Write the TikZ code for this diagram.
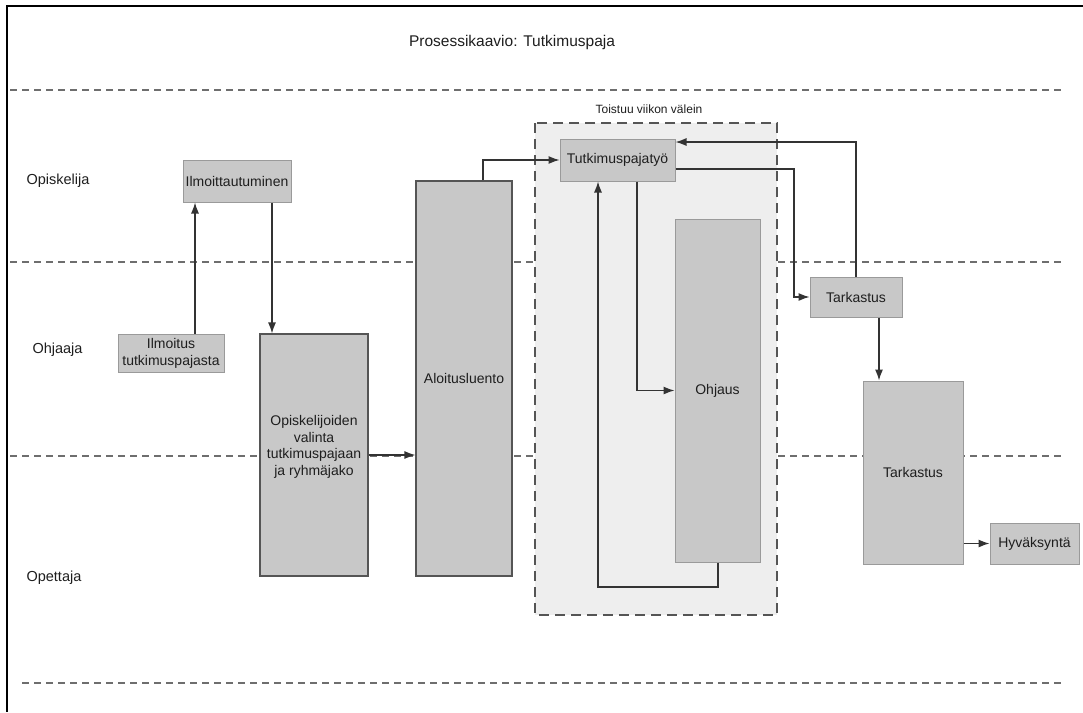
\documentclass[tikz,border=0pt]{standalone}
\usepackage{fontspec}
\setmainfont{Liberation Sans}
\usetikzlibrary{arrows.meta}
\definecolor{boxfill}{HTML}{C8C8C8}
\definecolor{boxline}{HTML}{9A9A9A}
\definecolor{darkline}{HTML}{555555}
\definecolor{loopfill}{HTML}{EEEEEE}
\definecolor{lanecol}{HTML}{6E6E6E}
\definecolor{arrcol}{HTML}{333333}
\definecolor{txt}{HTML}{1E1E1E}
\tikzset{
  procbox/.style={draw=boxline, fill=boxfill, line width=1pt, rectangle,
    inner sep=2pt, align=center, text=txt,
    font=\fontsize{14}{16}\selectfont},
  heavybox/.style={procbox, draw=darkline, line width=1.2pt},
  lane/.style={draw=lanecol, line width=1.4pt, dash pattern=on 7pt off 5pt},
  arr/.style={draw=arrcol, line width=1.2pt, -{Latex[length=11pt,width=8pt]}},
  lanelabel/.style={anchor=west, text=txt, font=\fontsize{14.5}{16}\selectfont},
}
\begin{document}
\begin{tikzpicture}[x=1pt,y=-1pt]
\useasboundingbox (0,0) rectangle (1083,712);

% frame
\draw[black, line width=2pt] (1083,6) -- (7,6) -- (7,712);

% title
\node[text=txt, font=\fontsize{15.5}{18}\selectfont] (title) at (512,42) {Prosessikaavio: Tutkimuspaja};

% swimlane separators
\draw[lane] (10,90) -- (1062,90);
\draw[lane] (10,262) -- (1062,262);
\draw[lane] (10,456) -- (1062,456);
\draw[lane] (22,683) -- (1062,683);

% lane names
\node[lanelabel] (l1) at (23,181) {Opiskelija};
\node[lanelabel] (l2) at (29,350) {Ohjaaja};
\node[lanelabel] (l3) at (23,578) {Opettaja};

% weekly loop
\draw[darkline, fill=loopfill, line width=1.8pt, dash pattern=on 10pt off 6pt]
  (535,123) rectangle (777,615);
\node[text=txt, font=\fontsize{12}{14}\selectfont] (looplabel) at (649,109) {Toistuu viikon välein};

% process steps
\node[procbox, minimum width=108pt, minimum height=42pt] (ilm) at (237,181) {Ilmoittautuminen};
\node[procbox, minimum width=106pt, minimum height=38pt, inner sep=1pt,
      font=\fontsize{14}{17}\selectfont] (ilmo) at (171,353) {Ilmoitus\\tutkimuspajasta};
\node[heavybox, minimum width=108pt, minimum height=242pt] (valinta) at (314,455) {};
\node[text=txt, align=center, font=\fontsize{14}{16.5}\selectfont] (valtxt) at (314,447) {Opiskelijoiden\\valinta\\tutkimuspajaan\\ja ryhmäjako};
\node[heavybox, minimum width=96pt, minimum height=395pt] (alo) at (464,378.5) {Aloitusluento};
\node[procbox, minimum width=115pt, minimum height=42pt] (tpt) at (617.5,160) {Tutkimuspajatyö};
\node[procbox, minimum width=85pt, minimum height=343pt] (ohj) at (717.5,390.5) {Ohjaus};
\node[procbox, minimum width=92pt, minimum height=40pt] (tar1) at (856,297) {Tarkastus};
\node[procbox, minimum width=100pt, minimum height=183pt] (tar2) at (913,472.5) {Tarkastus};
\node[procbox, minimum width=89pt, minimum height=41pt] (hyv) at (1034.5,543.5) {Hyväksyntä};

% routing points
\coordinate (c1) at (195,0);
\coordinate (c2) at (272,0);
\coordinate (c4) at (483,0);
\coordinate (k) at (794,169);
\coordinate (m) at (856,142);
\coordinate (n) at (637,0);
\coordinate (p) at (718,587);
\coordinate (q) at (598,587);
\coordinate (r) at (879,0);

% flow
\draw[arr] (ilmo.north -| c1) -- (ilm.south -| c1);
\draw[arr] (ilm.south -| c2) -- (valinta.north -| c2);
\draw[arr] (valinta.east) -- (valinta.east -| alo.west);
\draw[arr] (alo.north -| c4) |- (tpt.west);
\draw[arr] (tpt.east |- k) -- (k) |- (tar1.west);
\draw[arr] (tar1.north) |- (m -| tpt.east);
\draw[arr] (tpt.south -| n) |- (ohj.west);
\draw[arr] (ohj.south -| p) -- (p) -- (q) -- (tpt.south -| q);
\draw[arr] (tar1.south -| r) -- (tar2.north -| r);
\draw[arr] (hyv.west -| tar2.east) -- (hyv.west);
\end{tikzpicture}
\end{document}
